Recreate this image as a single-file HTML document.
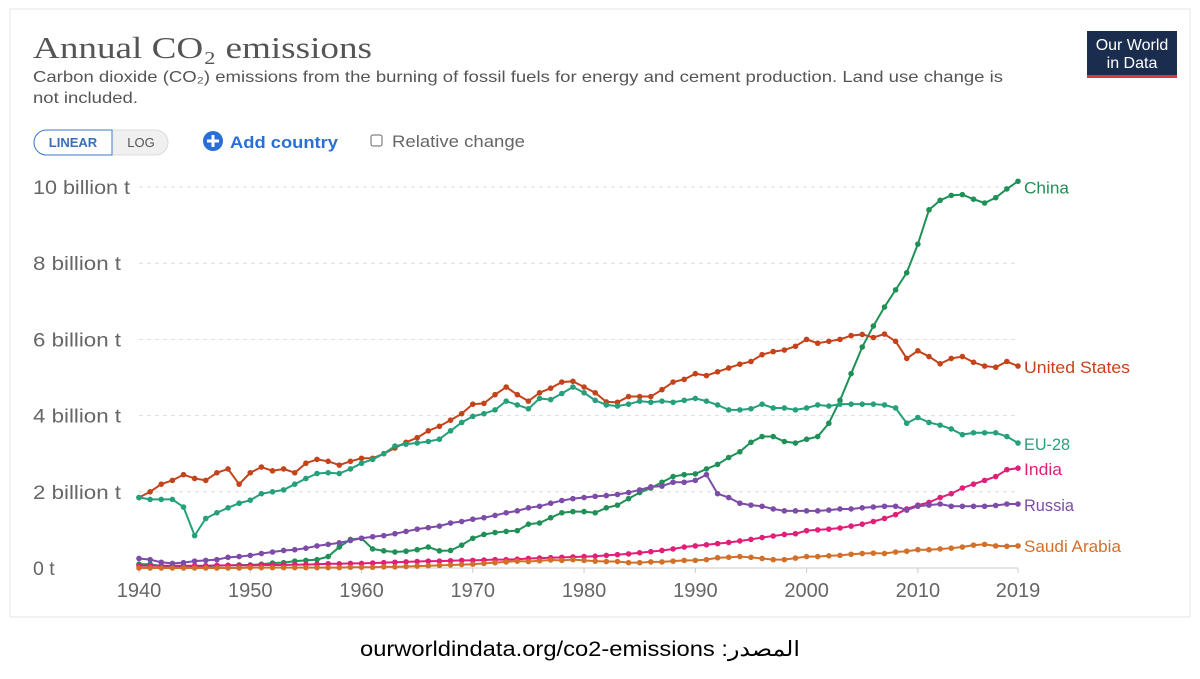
<!DOCTYPE html>
<html><head><meta charset="utf-8">
<style>
body{margin:0;background:#fff;width:1200px;height:674px;overflow:hidden;font-family:"Liberation Sans",sans-serif}
</style></head>
<body>
<svg id="chart" width="1200" height="674" viewBox="0 0 1200 674" font-family="Liberation Sans, sans-serif">
<rect x="10" y="9" width="1180" height="608" fill="#fff" stroke="#e4e4e4"/>
<text x="33" y="58" style="font-family:'Liberation Serif',serif" font-size="31" fill="#555" textLength="339" lengthAdjust="spacingAndGlyphs">Annual CO₂ emissions</text>
<text x="33" y="82" font-size="16" fill="#555" textLength="970" lengthAdjust="spacingAndGlyphs">Carbon dioxide (CO₂) emissions from the burning of fossil fuels for energy and cement production. Land use change is</text>
<text x="33" y="103" font-size="16" fill="#555" textLength="105" lengthAdjust="spacingAndGlyphs">not included.</text>
<g>
<rect x="1087" y="31" width="90" height="47" fill="#1a2d4e"/>
<rect x="1087" y="75" width="90" height="3" fill="#d73838"/>
<text x="1132" y="50" font-size="16" fill="#fff" text-anchor="middle">Our World</text>
<text x="1132" y="68" font-size="16" fill="#fff" text-anchor="middle">in Data</text>
</g>
<g>
<rect x="34" y="130" width="134" height="25" rx="12.5" fill="#f0f0f0" stroke="#ddd"/>
<path d="M46.5 130 H112 V155 H46.5 A12.5 12.5 0 0 1 46.5 130Z" fill="#fff" stroke="#3a7bd5"/>
<text x="73" y="147" font-size="13" font-weight="bold" fill="#3a6fb5" text-anchor="middle">LINEAR</text>
<text x="141" y="147" font-size="13" fill="#555" text-anchor="middle">LOG</text>
</g>
<g>
<circle cx="213" cy="141" r="10" fill="#2a6fd6"/>
<path d="M213 135v12M207 141h12" stroke="#fff" stroke-width="3"/>
<text x="230" y="148" font-size="17" font-weight="bold" fill="#2a6fd6" textLength="108" lengthAdjust="spacingAndGlyphs">Add country</text>
</g>
<g>
<rect x="371" y="135" width="11" height="11" rx="2" fill="#fff" stroke="#666"/>
<text x="392" y="147" font-size="17" fill="#666" textLength="133" lengthAdjust="spacingAndGlyphs">Relative change</text>
</g>
<g id="grid"></g>
<g id="series"></g>
<text x="580" y="656" font-size="21" fill="#000" text-anchor="middle" direction="rtl" textLength="440" lengthAdjust="spacingAndGlyphs">المصدر: ourworldindata.org/co2-emissions</text>
</svg>
<script>
const years=[];for(let y=1940;y<=2019;y++)years.push(y);
const yTicks=[0,2,4,6,8,10];
const yTickLabels=["0 t","2 billion t","4 billion t","6 billion t","8 billion t","10 billion t"];
const xTicks=[1940,1950,1960,1970,1980,1990,2000,2010,2019];
const china=[.1,.1,.05,.05,.05,.03,.05,.06,.07,.08,.08,.1,.13,.14,.18,.2,.22,.3,.55,.75,.78,.5,.45,.42,.44,.48,.55,.45,.46,.6,.78,.88,.93,.96,.98,1.15,1.18,1.32,1.45,1.48,1.48,1.45,1.58,1.65,1.82,1.98,2.1,2.25,2.4,2.45,2.47,2.6,2.72,2.9,3.05,3.3,3.45,3.45,3.32,3.28,3.38,3.45,3.8,4.4,5.1,5.8,6.35,6.85,7.3,7.75,8.5,9.4,9.65,9.78,9.8,9.68,9.58,9.72,9.95,10.15];
const us=[1.85,2.0,2.2,2.3,2.45,2.35,2.3,2.5,2.6,2.2,2.5,2.65,2.55,2.6,2.5,2.75,2.85,2.8,2.7,2.8,2.88,2.88,3.0,3.15,3.3,3.42,3.6,3.72,3.88,4.05,4.3,4.32,4.55,4.75,4.55,4.38,4.6,4.72,4.88,4.9,4.75,4.6,4.36,4.35,4.5,4.5,4.5,4.68,4.88,4.95,5.1,5.05,5.15,5.25,5.35,5.42,5.6,5.68,5.72,5.82,6.0,5.9,5.95,6.0,6.1,6.13,6.05,6.14,5.95,5.5,5.7,5.55,5.36,5.5,5.55,5.4,5.3,5.27,5.42,5.3];
const eu=[1.85,1.8,1.8,1.8,1.6,.85,1.3,1.45,1.58,1.7,1.78,1.95,2.0,2.05,2.2,2.35,2.48,2.5,2.48,2.6,2.75,2.85,3.0,3.2,3.25,3.28,3.32,3.38,3.6,3.82,3.98,4.05,4.15,4.38,4.28,4.18,4.45,4.42,4.58,4.75,4.6,4.4,4.28,4.25,4.3,4.38,4.35,4.38,4.35,4.4,4.45,4.38,4.28,4.15,4.15,4.18,4.3,4.2,4.2,4.15,4.2,4.28,4.25,4.3,4.3,4.3,4.3,4.28,4.2,3.8,3.95,3.82,3.75,3.65,3.5,3.55,3.55,3.55,3.45,3.28];
const india=[.06,.06,.06,.06,.06,.06,.06,.07,.07,.07,.07,.08,.08,.08,.09,.09,.1,.11,.11,.12,.12,.13,.14,.15,.16,.17,.18,.18,.19,.2,.2,.21,.22,.22,.23,.25,.26,.27,.28,.29,.3,.31,.33,.35,.37,.4,.43,.46,.5,.55,.58,.61,.64,.67,.71,.75,.8,.84,.88,.9,.98,1.0,1.02,1.05,1.1,1.15,1.22,1.3,1.4,1.55,1.65,1.72,1.85,1.95,2.1,2.2,2.3,2.4,2.58,2.62];
const russia=[.25,.22,.15,.12,.14,.18,.2,.22,.28,.3,.33,.38,.42,.46,.48,.52,.58,.62,.66,.72,.78,.82,.85,.9,.96,1.02,1.06,1.1,1.18,1.22,1.28,1.32,1.38,1.45,1.5,1.58,1.62,1.7,1.77,1.82,1.85,1.88,1.9,1.93,1.98,2.05,2.13,2.15,2.25,2.25,2.3,2.45,1.95,1.85,1.7,1.65,1.62,1.55,1.5,1.5,1.5,1.5,1.52,1.55,1.55,1.58,1.6,1.62,1.62,1.52,1.62,1.65,1.68,1.62,1.62,1.62,1.62,1.64,1.68,1.68];
const saudi=[0,0,0,0,0,0,0,0,0,0,.01,.01,.01,.01,.01,.01,.01,.01,.01,.02,.02,.02,.03,.03,.04,.05,.06,.07,.08,.09,.1,.12,.14,.16,.18,.17,.19,.21,.2,.22,.2,.18,.17,.17,.14,.14,.16,.16,.18,.2,.2,.22,.27,.28,.3,.28,.25,.22,.22,.26,.3,.3,.32,.33,.36,.38,.39,.38,.42,.44,.48,.48,.5,.52,.55,.6,.62,.58,.57,.58];
const seriesNames=["China","United States","EU-28","India","Russia","Saudi Arabia"];
const seriesData=[china,us,eu,india,russia,saudi];
const colors=["#1f9156","#c4431a","#26a07a","#e01f79","#7d4ba8","#d2702a"];
const labelWidths=[45,106,46,38,50,97];
const NS="http://www.w3.org/2000/svg";
const X=y=>139+(y-1940)*(1018-139)/79;
const Y=v=>568-v*38.1;
function mk(tag,attrs,parent){const e=document.createElementNS(NS,tag);for(const k in attrs)e.setAttribute(k,attrs[k]);parent.appendChild(e);return e;}
const grid=document.getElementById('grid');
yTicks.forEach((t,i)=>{
  if(t>0){const l=mk('line',{x1:139,x2:1018,y1:Y(t),y2:Y(t),stroke:'#ddd','stroke-dasharray':'4 4'},grid);
  
  }
  const attrs={x:33,y:Y(t)+7,'font-size':19.5,fill:'#666'};
  if(t>0){attrs.textLength=(t>=10?97:88);attrs.lengthAdjust='spacingAndGlyphs';}
  const tx=mk('text',attrs,grid);tx.textContent=yTickLabels[i];
  
  
});
const base=mk('line',{x1:139,x2:1018,y1:Y(0),y2:Y(0),stroke:'#ccc'},grid);


xTicks.forEach(t=>{
  mk('line',{x1:X(t),x2:X(t),y1:Y(0),y2:Y(0)+5,stroke:'#ccc'},grid);
  const tx=mk('text',{x:X(t),y:597,'font-size':20,fill:'#666','text-anchor':'middle'},grid);tx.textContent=t;
  
  
});
const sg=document.getElementById('series');
seriesData.forEach((d,s)=>{
  const g=mk('g',{},sg);
  
  
  mk('polyline',{points:d.map((v,i)=>X(years[i])+','+Y(v)).join(' '),fill:'none',stroke:colors[s],'stroke-width':2},g);
  d.forEach((v,i)=>{const c=mk('circle',{cx:X(years[i]),cy:Y(v),r:2.8,fill:colors[s]},g);
    
    });
  const lab=mk('text',{x:1024,y:Y(d[d.length-1])+7+(s===5?-1:0)+(s===0?5:0),'font-size':17,fill:colors[s],textLength:labelWidths[s],lengthAdjust:'spacingAndGlyphs'},g);
  lab.textContent=seriesNames[s];
  
  
});
</script>
</body></html>
